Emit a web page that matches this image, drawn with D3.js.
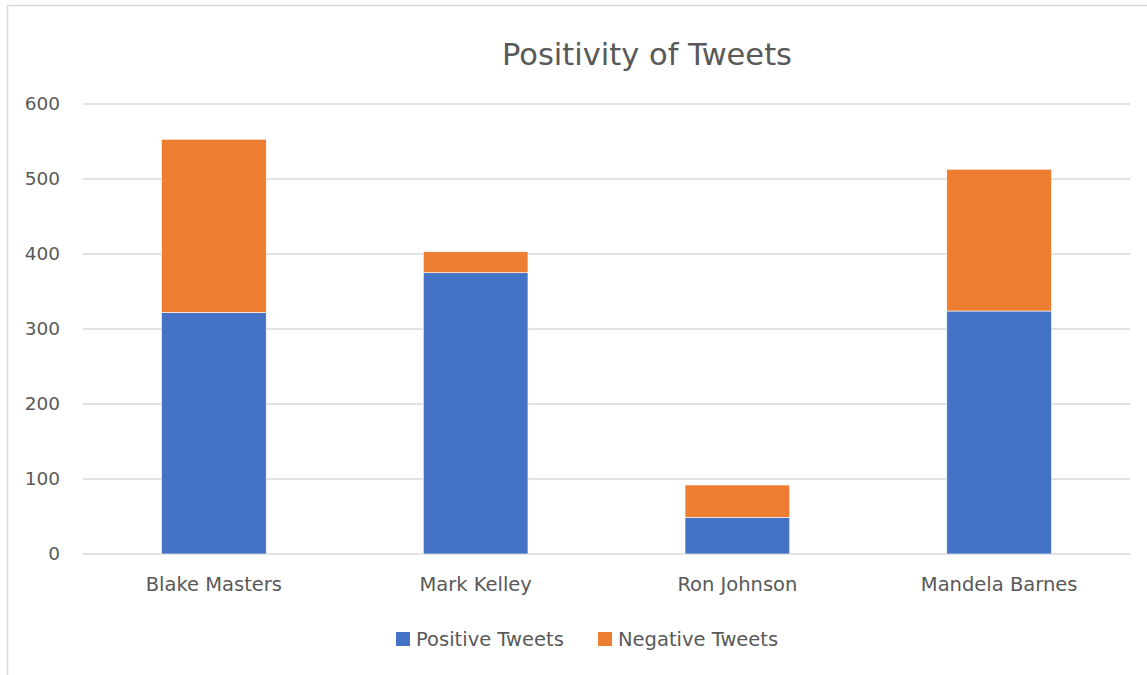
<!DOCTYPE html>
<html>
<head>
<meta charset="utf-8">
<script src="https://cdn.jsdelivr.net/npm/d3@7"></script>
<style>
  body { margin: 0; background: #fff; }
  text { font-family: "DejaVu Sans", sans-serif; fill: #595959; }
</style>
</head>
<body>
<div id="chart"></div>
<script>
const width = 1147;
const height = 675;

// data
const candidates = ["Blake Masters", "Mark Kelley", "Ron Johnson", "Mandela Barnes"];
const positive = [322, 375, 49, 324];
const negative = [231, 28, 43, 189];
const seriesNames = ["Positive Tweets", "Negative Tweets"];
const yTicks = [0, 100, 200, 300, 400, 500, 600];
const colors = ["#4472C4", "#ED7D31"];

const svg = d3.select("#chart")
    .append("svg")
    .attr("width", width)
    .attr("height", height);

// chart frame
svg.append("rect")
    .attr("x", 7.5).attr("y", 5.5)
    .attr("width", width + 10).attr("height", height + 10)
    .attr("fill", "none")
    .attr("stroke", "#d9d9d9")
    .attr("stroke-width", 1.5);

// scales
const x = d3.scaleBand()
    .domain(candidates)
    .range([83, 1130])
    .paddingInner(0.6)
    .paddingOuter(0.3);

const y = d3.scaleLinear()
    .domain([0, 600])
    .range([554, 104]);

// grid
svg.append("g")
    .selectAll("line")
    .data(yTicks)
    .enter()
    .append("line")
    .attr("x1", 83)
    .attr("x2", 1130)
    .attr("y1", d => y(d))
    .attr("y2", d => y(d))
    .attr("stroke", "#d9d9d9")
    .attr("stroke-width", 1.3);

// y axis labels
const yAxis = svg.append("g")
    .attr("transform", "translate(60,0)")
    .call(d3.axisLeft(y).tickValues(yTicks).tickSize(0).tickPadding(0));
yAxis.select(".domain").remove();
yAxis.selectAll("text")
    .style("font-family", "DejaVu Sans")
    .style("font-size", "18.5px")
    .attr("fill", "#595959");

// x axis labels
const xAxis = svg.append("g")
    .attr("transform", "translate(0,577.5)")
    .call(d3.axisBottom(x).tickSize(0).tickPadding(0));
xAxis.select(".domain").remove();
xAxis.selectAll("text")
    .style("font-family", "DejaVu Sans")
    .style("font-size", "19.5px")
    .attr("fill", "#595959");

// stacked bars
const rows = candidates.map((c, i) => ({ name: c, pos: positive[i], neg: negative[i] }));
const stack = d3.stack().keys(["pos", "neg"])(rows);

svg.append("g")
    .selectAll("g")
    .data(stack)
    .enter()
    .append("g")
    .attr("fill", (d, i) => colors[i])
    .selectAll("rect")
    .data(d => d)
    .enter()
    .append("rect")
    .attr("x", d => x(d.data.name))
    .attr("width", x.bandwidth())
    .attr("y", d => y(d[1]))
    .attr("height", d => y(d[0]) - y(d[1]))
    .attr("stroke", "#fff")
    .attr("stroke-width", 0.6);

// title
svg.append("text")
    .attr("x", 647)
    .attr("y", 64.5)
    .attr("text-anchor", "middle")
    .style("font-size", "30.5px")
    .text("Positivity of Tweets");

// legend
const legendX = [396, 598];
const legend = svg.append("g")
    .selectAll("g")
    .data(seriesNames)
    .enter()
    .append("g")
    .attr("transform", (d, i) => `translate(${legendX[i]},632)`);

legend.append("rect")
    .attr("width", 14)
    .attr("height", 14)
    .attr("fill", (d, i) => colors[i]);

legend.append("text")
    .attr("x", 20)
    .attr("y", 14)
    .style("font-size", "19.5px")
    .text(d => d);
</script>
</body>
</html>
